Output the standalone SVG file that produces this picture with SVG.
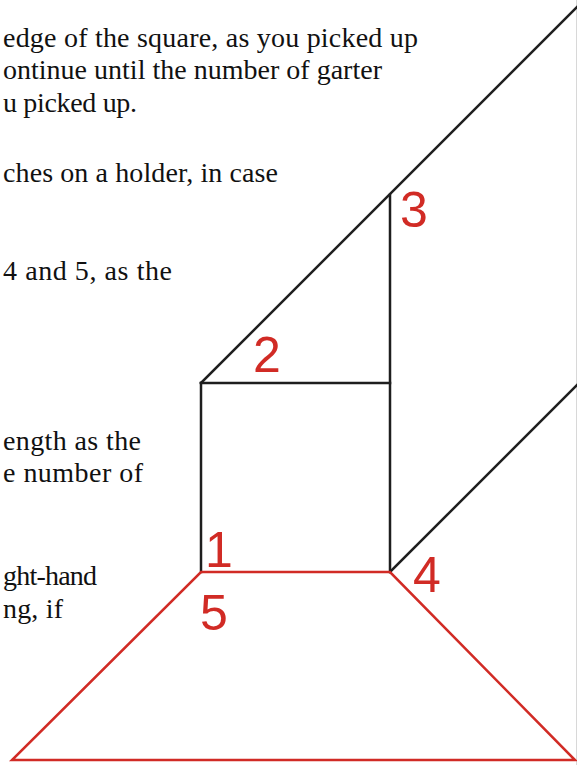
<svg xmlns="http://www.w3.org/2000/svg" width="577" height="765" viewBox="0 0 577 765">
<style>
.t{font-size:28px;fill:#111;text-anchor:end}
.n{font-family:'Liberation Sans',Arial,sans-serif;font-size:50px;fill:#d12b25}
.k{stroke:#1e1e1e;stroke-width:2.5;fill:none;stroke-linecap:square}
.r{stroke:#d12b25;stroke-width:2.5;fill:none}
</style>
<rect width="577" height="765" fill="#fff"/>
<g id="text" font-family="Liberation Serif, Times New Roman, serif">
<text class="t" x="418" y="47" textLength="415" lengthAdjust="spacing">edge of the square, as you picked up</text>
<text class="t" x="382" y="79" textLength="379" lengthAdjust="spacing">ontinue until the number of garter</text>
<text class="t" x="137" y="112" textLength="134" lengthAdjust="spacing">u picked up.</text>
<text class="t" x="278" y="182" textLength="275" lengthAdjust="spacing">ches on a holder, in case</text>
<text class="t" x="172" y="280" textLength="169" lengthAdjust="spacing">4 and 5, as the</text>
<text class="t" x="141" y="450" textLength="138" lengthAdjust="spacing">ength as the</text>
<text class="t" x="143" y="482" textLength="140" lengthAdjust="spacing">e number of</text>
<text class="t" x="97" y="585" textLength="94" lengthAdjust="spacing">ght-hand</text>
<text class="t" x="63" y="618" textLength="60" lengthAdjust="spacing">ng, if</text>
</g>
<g id="connectors">
<line x1="576.5" y1="0" x2="576.5" y2="765" stroke="#d8d8d8" stroke-width="1"/>
<line class="k" x1="201" y1="383" x2="578" y2="6"/>
<line class="k" x1="390" y1="195" x2="390" y2="572"/>
<line class="k" x1="201" y1="383" x2="390" y2="383"/>
<line class="k" x1="201" y1="383" x2="201" y2="572"/>
<line class="k" x1="390" y1="572" x2="578" y2="384"/>
<polygon class="r" points="201,572 390,572 575,760 12,760"/>
</g>
<g id="label-1"><text class="n" x="205" y="567">1</text></g>
<g id="label-2"><text class="n" x="253" y="372">2</text></g>
<g id="label-3"><text class="n" x="400" y="227">3</text></g>
<g id="label-4"><text class="n" x="413" y="592">4</text></g>
<g id="label-5"><text class="n" x="200" y="630">5</text></g>
</svg>
